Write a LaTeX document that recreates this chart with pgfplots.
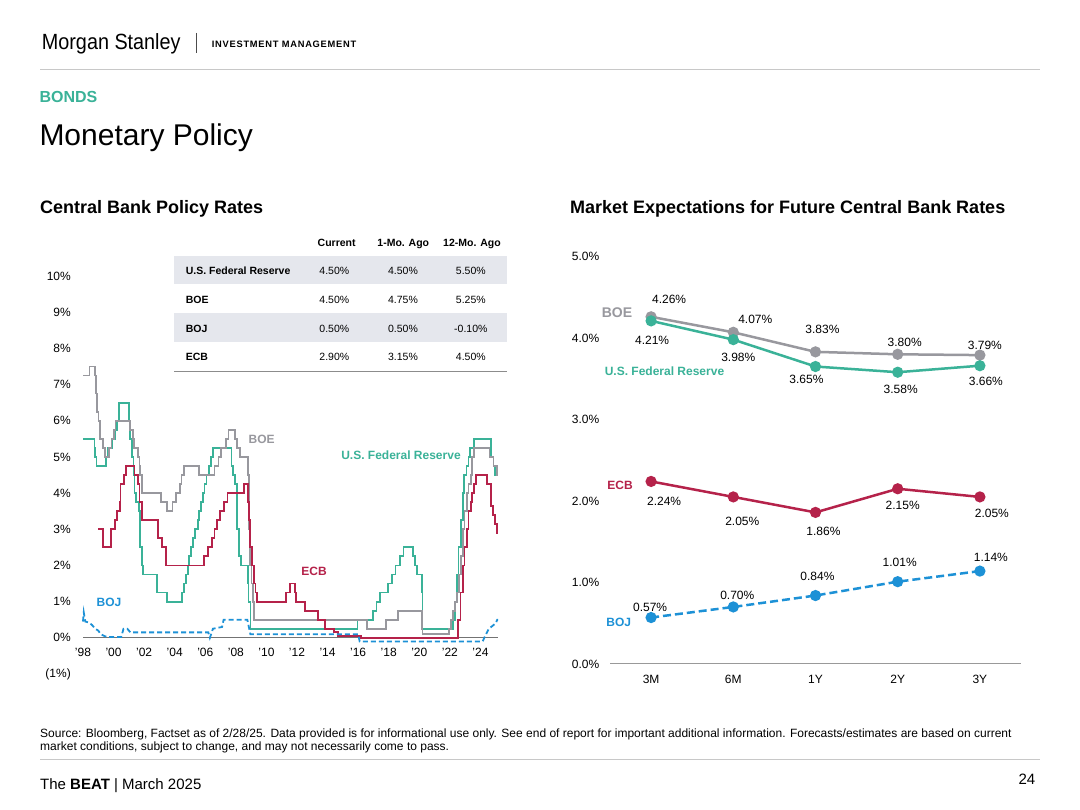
\documentclass[border=0pt]{standalone}
\usepackage{fontspec}
\setmainfont{Liberation Sans}
\usepackage{graphicx}
\usepackage{pgfplots}
\usepackage{pgfplotstable}
\pgfplotsset{compat=1.18}

\definecolor{fedc}{RGB}{58,178,152}
\definecolor{boec}{RGB}{152,152,158}
\definecolor{ecbc}{RGB}{181,34,74}
\definecolor{bojc}{RGB}{29,145,214}
\definecolor{band}{RGB}{229,231,237}
\definecolor{rule}{RGB}{200,200,200}
\newcommand\fs[2]{\fontsize{#1}{#2}\selectfont}

% policy rates, left chart
\pgfplotstableread{
x y
1998.00 5.50
1998.75 5.25
1998.80 5.00
1998.88 4.75
1999.50 5.00
1999.65 5.25
1999.88 5.50
2000.10 5.75
2000.22 6.00
2000.38 6.50
2001.00 6.00
2001.08 5.50
2001.22 5.00
2001.30 4.50
2001.37 4.00
2001.49 3.75
2001.64 3.50
2001.71 3.00
2001.75 2.50
2001.85 2.00
2001.95 1.75
2002.85 1.25
2003.48 1.00
2004.50 1.25
2004.61 1.50
2004.72 1.75
2004.86 2.00
2004.95 2.25
2005.09 2.50
2005.22 2.75
2005.34 3.00
2005.50 3.25
2005.61 3.50
2005.72 3.75
2005.84 4.00
2005.95 4.25
2006.08 4.50
2006.24 4.75
2006.36 5.00
2006.50 5.25
2007.72 4.75
2007.83 4.50
2007.95 4.25
2008.06 3.50
2008.08 3.00
2008.21 2.25
2008.33 2.00
2008.77 1.50
2008.83 1.00
2008.96 0.25
2015.96 0.50
2016.95 0.75
2017.20 1.00
2017.45 1.25
2017.95 1.50
2018.22 1.75
2018.45 2.00
2018.74 2.25
2018.97 2.50
2019.58 2.25
2019.72 2.00
2019.83 1.75
2020.17 1.25
2020.21 0.25
2022.21 0.50
2022.34 1.00
2022.46 1.75
2022.57 2.50
2022.72 3.25
2022.84 4.00
2022.95 4.50
2023.09 4.75
2023.22 5.00
2023.34 5.25
2023.57 5.50
2024.71 5.00
2024.85 4.75
2024.96 4.50
2025.15 4.50
}\fed

\pgfplotstableread{
x y
1998.00 7.25
1998.42 7.50
1998.76 7.25
1998.85 6.75
1998.94 6.25
1999.02 6.00
1999.10 5.50
1999.30 5.25
1999.45 5.00
1999.70 5.25
1999.87 5.50
2000.03 5.75
2000.12 6.00
2001.10 5.75
2001.26 5.50
2001.36 5.25
2001.60 5.00
2001.70 4.75
2001.72 4.50
2001.85 4.00
2003.10 3.75
2003.52 3.50
2003.85 3.75
2004.10 4.00
2004.35 4.25
2004.45 4.50
2004.60 4.75
2005.60 4.50
2006.60 4.75
2006.86 5.00
2007.03 5.25
2007.36 5.50
2007.52 5.75
2007.93 5.50
2008.10 5.25
2008.27 5.00
2008.77 4.50
2008.85 3.00
2008.93 2.00
2009.02 1.50
2009.10 1.00
2009.18 0.50
2016.60 0.25
2017.84 0.50
2018.59 0.75
2020.18 0.25
2020.21 0.10
2021.96 0.25
2022.10 0.50
2022.22 0.75
2022.35 1.00
2022.46 1.25
2022.59 1.75
2022.72 2.25
2022.84 3.00
2022.96 3.50
2023.10 4.00
2023.22 4.25
2023.36 4.50
2023.47 5.00
2023.59 5.25
2024.59 5.00
2024.85 4.75
2025.10 4.50
2025.15 4.50
}\boe

\pgfplotstableread{
x y
1999.00 3.00
1999.30 2.50
1999.85 3.00
2000.10 3.25
2000.25 3.50
2000.40 3.75
2000.45 4.25
2000.70 4.50
2000.80 4.75
2001.37 4.50
2001.60 4.25
2001.70 3.75
2001.86 3.25
2002.93 2.75
2003.18 2.50
2003.43 2.00
2005.93 2.25
2006.17 2.50
2006.45 2.75
2006.60 3.00
2006.78 3.25
2006.95 3.50
2007.20 3.75
2007.45 4.00
2008.52 4.25
2008.77 3.75
2008.87 3.25
2008.95 2.50
2009.05 2.00
2009.18 1.50
2009.28 1.25
2009.36 1.00
2011.27 1.25
2011.52 1.50
2011.85 1.25
2011.95 1.00
2012.52 0.75
2013.35 0.50
2013.85 0.25
2014.44 0.15
2014.70 0.05
2016.20 0.00
2022.55 0.50
2022.70 1.25
2022.84 2.00
2022.96 2.50
2023.10 3.00
2023.22 3.50
2023.36 3.75
2023.46 4.00
2023.60 4.25
2023.72 4.50
2024.45 4.25
2024.70 3.65
2024.80 3.40
2024.96 3.15
2025.08 2.90
2025.15 2.90
}\ecb

\pgfplotstableread{
x y
1998.00 0.45
1998.05 0.70
1998.15 0.45
1998.40 0.42
1998.60 0.35
1998.80 0.25
1999.00 0.20
1999.15 0.10
1999.40 0.05
1999.60 0.02
2000.50 0.02
2000.65 0.25
2000.90 0.25
2001.10 0.15
2006.20 0.15
2006.30 0.00
2006.50 0.25
2007.10 0.30
2007.20 0.50
2008.75 0.50
2008.85 0.30
2008.95 0.10
2016.00 0.10
2016.10 -0.10
2024.15 -0.10
2024.25 0.00
2024.55 0.25
2025.00 0.40
2025.10 0.50
2025.15 0.50
}\boj

% market expectations, right chart (dx, dy: label offsets)
\pgfplotstableread{
x y dx dy
0 4.21 1 -19
1 3.98 5 -18
2 3.65 -9 -13
3 3.58 3 -17
4 3.66 6 -16
}\fedexp

\pgfplotstableread{
x y dx dy
0 4.26 18 17
1 4.07 22 13
2 3.83 7 22
3 3.80 7 12
4 3.79 5 10
}\boeexp

\pgfplotstableread{
x y dx dy
0 2.24 13 -20
1 2.05 9 -24
2 1.86 8 -19
3 2.15 5 -17
4 2.05 12 -16
}\ecbexp

\pgfplotstableread{
x y dx dy
0 0.57 -1 10
1 0.70 4 12
2 0.84 2 19
3 1.01 2 19
4 1.14 11 14
}\bojexp

\pgfplotsset{
  labelled/.style={
    nodes near coords={\pgfmathprintnumber[fixed,fixed zerofill,precision=2]{\pgfplotspointmeta}\%},
    point meta=y,
    visualization depends on={\thisrow{dx}\as\dx},
    visualization depends on={\thisrow{dy}\as\dy},
    every node near coord/.style={anchor=center, inner sep=0pt, text=black,
      font=\fs{12}{14}, xshift=\dx, yshift=\dy},
  },
}

\begin{document}
\begin{tikzpicture}
\begin{scope}[x=1pt,y=1pt]
\useasboundingbox (0,0) rectangle (1080,810);
\fill[white] (0,0) rectangle (1080,810);

% header
\node[anchor=base west, inner sep=0pt] at (41.7,760) {\fs{22}{26}\scalebox{0.9}[1]{Morgan Stanley}};
\draw[black!70, line width=0.8pt] (196.3,777) -- (196.3,757);
\node[anchor=base west, inner sep=0pt] at (211.7,762.7)
  {\fs{9.3}{11}\addfontfeature{LetterSpace=8}\bfseries INVESTMENT MANAGEMENT};
\draw[rule, line width=1pt] (40,740) -- (1040,740);
\node[anchor=base west, inner sep=0pt, text=fedc] at (39.3,707.3) {\fs{16}{19}\bfseries BONDS};
\node[anchor=base west, inner sep=0pt] at (39.3,664.3) {\fs{30}{36}Monetary Policy};
\node[anchor=base west, inner sep=0pt] at (40,596.6) {\fs{18}{21}\bfseries Central Bank Policy Rates};
\node[anchor=base west, inner sep=0pt] at (570,596.6) {\fs{18}{21}\bfseries Market Expectations for Future Central Bank Rates};

% table
\fill[band] (174.3,554.3) rectangle (506.7,526);
\fill[band] (174.3,496.7) rectangle (506.7,468.3);
\draw[black!45, line width=0.8pt] (174.3,438.3) -- (506.7,438.3);
\begin{scope}[every node/.style={inner sep=0pt, anchor=base, font=\fs{10.5}{12}}]
\node[font=\fs{10.5}{12}\bfseries] at (336.7,563.2) {Current};
\node[font=\fs{10.5}{12}\bfseries] at (403.3,563.2) {1-Mo. Ago};
\node[font=\fs{10.5}{12}\bfseries] at (472,563.2) {12-Mo. Ago};
\node[anchor=base west, font=\fs{10.5}{12}\bfseries] at (185.7,535.5) {U.S. Federal Reserve};
\node[anchor=base west, font=\fs{10.5}{12}\bfseries] at (185.7,506.9) {BOE};
\node[anchor=base west, font=\fs{10.5}{12}\bfseries] at (185.7,477.5) {BOJ};
\node[anchor=base west, font=\fs{10.5}{12}\bfseries] at (185.7,449.2) {ECB};
\node at (334.3,535.5) {4.50\%}; \node at (403,535.5) {4.50\%}; \node at (470.8,535.5) {5.50\%};
\node at (334.3,506.9) {4.50\%}; \node at (403,506.9) {4.75\%}; \node at (470.8,506.9) {5.25\%};
\node at (334.3,477.5) {0.50\%}; \node at (403,477.5) {0.50\%}; \node at (470.8,477.5) {-0.10\%};
\node at (334.3,449.2) {2.90\%}; \node at (403,449.2) {3.15\%}; \node at (470.8,449.2) {4.50\%};
\end{scope}

% series names
\begin{scope}[every node/.style={inner sep=0pt, anchor=center, font=\fs{12}{14}\bfseries}]
\node[text=boec] at (261.7,371) {BOE};
\node[text=fedc] at (401,354.3) {U.S. Federal Reserve};
\node[text=ecbc] at (314,239) {ECB};
\node[text=bojc] at (109,207.7) {BOJ};
\node[text=boec, font=\fs{14}{16}\bfseries] at (617,497.3) {BOE};
\node[text=fedc] at (664.5,438.3) {U.S. Federal Reserve};
\node[text=ecbc] at (620,325) {ECB};
\node[text=bojc] at (618.7,187.3) {BOJ};
\end{scope}

% footer
\node[anchor=base west, inner sep=0pt] at (40,72) {\fs{12}{14}Source: Bloomberg, Factset as of 2/28/25. Data provided is for informational use only. See end of report for important additional information. Forecasts/estimates are based on current};
\node[anchor=base west, inner sep=0pt] at (40,59) {\fs{12}{14}market conditions, subject to change, and may not necessarily come to pass.};
\draw[rule, line width=1pt] (40,50) -- (1040,50);
\node[anchor=base west, inner sep=0pt] at (40,20.6) {\fs{15}{18}The \textbf{BEAT} | March 2025};
\node[anchor=base east, inner sep=0pt] at (1035.5,25.6) {\fs{15}{18}24};
\end{scope}

% left chart
\begin{axis}[
  at={(83pt,136pt)}, anchor=south west,
  scale only axis, width=415pt, height=398pt,
  xmin=1998, xmax=2025.15, ymin=-1, ymax=10,
  enlargelimits=false, clip=false,
  axis line style={draw=none}, major tick length=0pt,
  xtick={1998,2000,...,2024},
  xticklabels={'98,'00,'02,'04,'06,'08,'10,'12,'14,'16,'18,'20,'22,'24},
  ytick={-1,0,...,10},
  yticklabels={(1\%),0\%,1\%,2\%,3\%,4\%,5\%,6\%,7\%,8\%,9\%,10\%},
  ticklabel style={font=\fs{12}{14}, inner sep=0pt},
  xticklabel style={anchor=center, yshift=21.2pt},
  yticklabel style={anchor=east, xshift=-12pt},
  extra y ticks={0}, extra y tick labels={},
  extra y tick style={grid=major, major grid style={black!55, line width=0.9pt}},
  /pgf/number format/assume math mode=true,
]
\addplot[fedc, line width=1.8pt, const plot] table[x=x,y=y] {\fed};
\addplot[boec, line width=1.8pt, const plot] table[x=x,y=y] {\boe};
\addplot[ecbc, line width=1.8pt, const plot] table[x=x,y=y] {\ecb};
\addplot[bojc, line width=1.8pt, dash pattern=on 5pt off 3pt] table[x=x,y=y] {\boj};
\end{axis}

% right chart
\begin{axis}[
  at={(610pt,146pt)}, anchor=south west,
  scale only axis, width=411pt, height=407.5pt,
  xmin=-0.5, xmax=4.5, ymin=0, ymax=5,
  enlargelimits=false, clip=false,
  axis line style={draw=none}, major tick length=0pt,
  xtick={0,...,4}, xticklabels={3M,6M,1Y,2Y,3Y},
  ytick={0,...,5}, yticklabels={0.0\%,1.0\%,2.0\%,3.0\%,4.0\%,5.0\%},
  ticklabel style={font=\fs{12}{14}, inner sep=0pt},
  xticklabel style={anchor=center, yshift=-15pt},
  yticklabel style={anchor=east, xshift=-10.5pt},
  extra y ticks={0}, extra y tick labels={},
  extra y tick style={grid=major, major grid style={black!40, line width=1pt}},
  /pgf/number format/assume math mode=true,
]
\addplot[boec, line width=2.5pt, mark=*, mark size=4.3pt, labelled] table[x=x,y=y] {\boeexp};
\addplot[fedc, line width=2.5pt, mark=*, mark size=4.3pt, labelled] table[x=x,y=y] {\fedexp};
\addplot[ecbc, line width=2.5pt, mark=*, mark size=4.3pt, labelled] table[x=x,y=y] {\ecbexp};
\addplot[bojc, line width=2.5pt, dash pattern=on 8pt off 4pt, mark=*, mark size=4.3pt,
  mark options={solid}, labelled] table[x=x,y=y] {\bojexp};
\end{axis}
\end{tikzpicture}
\end{document}
